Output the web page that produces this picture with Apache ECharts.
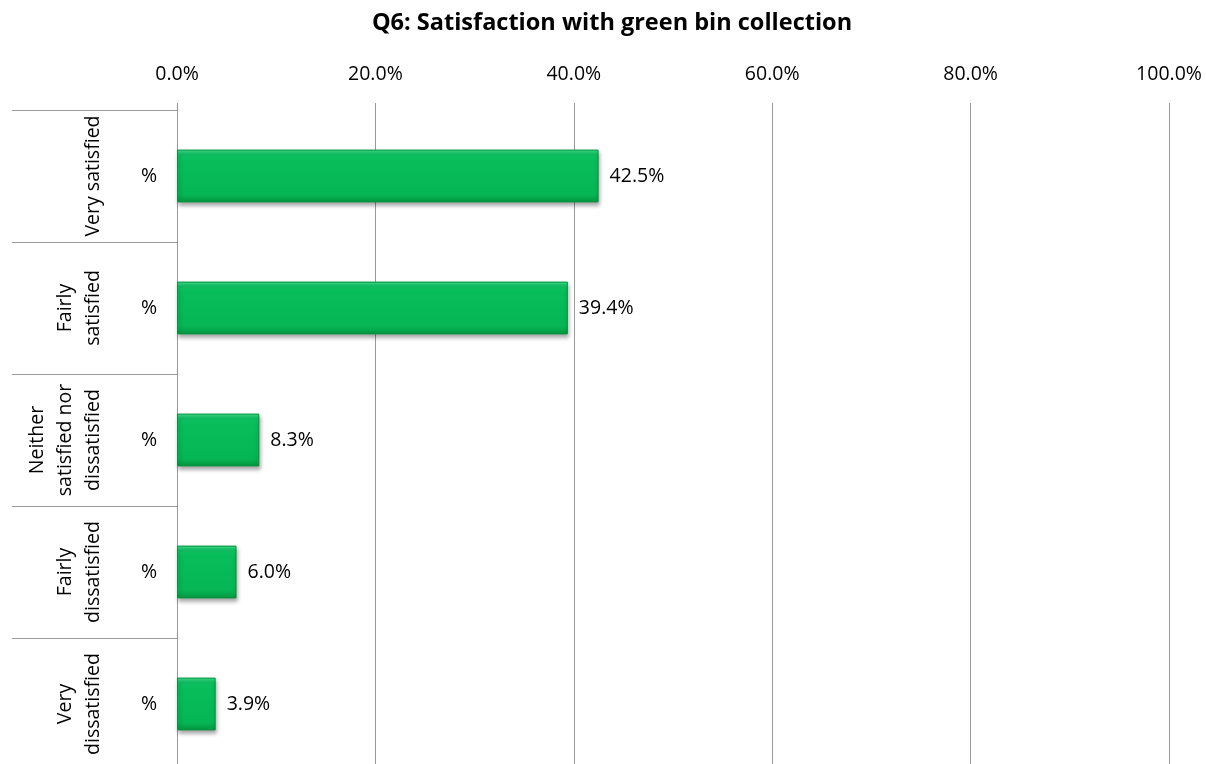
<!DOCTYPE html>
<html>
<head>
<meta charset="utf-8">
<title>Q6: Satisfaction with green bin collection</title>
<script src="https://cdn.jsdelivr.net/npm/echarts@6/dist/echarts.min.js"></script>
<style>
  html, body { margin: 0; padding: 0; background: #fff; overflow: hidden; }
  /* the plot continues a few pixels below the visible page */
  #chart { width: 1206px; height: 770px; }
</style>
</head>
<body>
<div id="chart"></div>
<script>
// Response categories (outer, rotated labels) and the measure shown for each (inner labels)
const categories = [
  'Very satisfied',
  'Fairly\nsatisfied',
  'Neither\nsatisfied nor\ndissatisfied',
  'Fairly\ndissatisfied',
  'Very\ndissatisfied'
];
const measureLabels = ['%', '%', '%', '%', '%'];
// Share of respondents, in percent
const values = [42.5, 39.4, 8.3, 6.0, 3.9];
// Percent axis
const axisMin = 0;
const axisMax = 100;
const axisStep = 20;

const FONT = '"Open Sans", "Noto Sans", sans-serif';
const TEXT_SIZE = 19.5;
const GRID_COLOR = '#9a9a9a';

const chart = echarts.init(document.getElementById('chart'), null, { renderer: 'canvas' });

chart.setOption({
  backgroundColor: '#ffffff',
  animation: false,
  title: {
    text: 'Q6: Satisfaction with green bin collection',
    left: 607,
    textAlign: 'center',
    top: 6,
    textStyle: { fontFamily: FONT, fontWeight: 'bold', fontSize: 23.5, color: '#000' }
  },
  grid: { left: 177, right: 37, top: 110, bottom: 0, containLabel: false },
  xAxis: {
    type: 'value',
    position: 'top',
    min: axisMin,
    max: axisMax,
    interval: axisStep,
    axisLine: { show: false },
    axisTick: { show: true, length: 7, lineStyle: { color: GRID_COLOR, width: 1 } },
    axisLabel: {
      margin: 26,
      fontFamily: FONT,
      fontSize: TEXT_SIZE,
      color: '#000',
      formatter: v => v.toFixed(1) + '%'
    },
    splitLine: { show: true, lineStyle: { color: GRID_COLOR, width: 1 } }
  },
  yAxis: [
    {
      type: 'category',
      inverse: true,
      data: categories,
      axisLine: { show: true, lineStyle: { color: GRID_COLOR, width: 1 } },
      axisTick: { show: true, interval: 0, length: 165, alignWithLabel: false, lineStyle: { color: GRID_COLOR, width: 1 } },
      axisLabel: {
        interval: 0,
        margin: 20,
        fontFamily: FONT,
        fontSize: TEXT_SIZE,
        color: '#000',
        formatter: (v, i) => measureLabels[i]
      }
    },
    {
      type: 'category',
      inverse: true,
      position: 'left',
      offset: 70,
      data: categories,
      axisLine: { show: false },
      axisTick: { show: false },
      axisLabel: {
        interval: 0,
        rotate: 90,
        margin: 0,
        fontFamily: FONT,
        fontSize: TEXT_SIZE,
        lineHeight: 28,
        color: '#000'
      }
    }
  ],
  series: [
    {
      type: 'bar',
      yAxisIndex: 0,
      data: values,
      barWidth: '40%',
      itemStyle: {
        color: new echarts.graphic.LinearGradient(0, 0, 0, 1, [
          { offset: 0, color: '#3fe08c' },
          { offset: 0.09, color: '#10c463' },
          { offset: 0.2, color: '#07bd5a' },
          { offset: 0.85, color: '#06b654' },
          { offset: 1, color: '#03963f' }
        ]),
        borderColor: '#07933f',
        borderWidth: 1,
        shadowColor: 'rgba(0,0,0,0.35)',
        shadowBlur: 4,
        shadowOffsetX: 1,
        shadowOffsetY: 3
      },
      label: {
        show: true,
        position: 'right',
        distance: 11,
        fontFamily: FONT,
        fontSize: TEXT_SIZE,
        color: '#000',
        formatter: p => p.value.toFixed(1) + '%'
      }
    }
  ]
});
</script>
</body>
</html>
